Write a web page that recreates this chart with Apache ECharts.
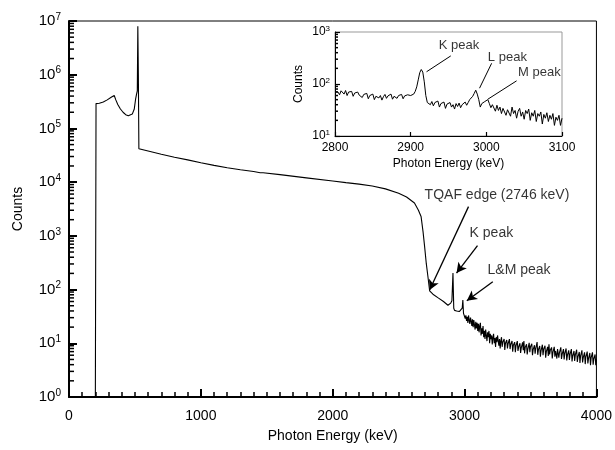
<!DOCTYPE html>
<html>
<head>
<meta charset="utf-8">
<script src="https://cdn.jsdelivr.net/npm/echarts@6/dist/echarts.min.js"></script>
<style>
  html, body { margin: 0; padding: 0; background: #fff; }
  #main { width: 615px; height: 450px; }
</style>
</head>
<body>
<div id="main"></div>
<script type="text/javascript">
// main spectrum, low energy part up to the TQAF edge  [keV, counts]
var spectrumLow = [
  [200, 1], [205, 2.9e5], [230, 2.95e5], [260, 3.1e5], [290, 3.4e5], [320, 3.8e5],
  [343, 4.1e5], [355, 3.4e5], [370, 2.8e5], [390, 2.3e5], [410, 2.0e5], [430, 1.8e5],
  [450, 1.72e5], [465, 1.72e5], [480, 1.85e5], [495, 2.3e5], [505, 3.5e5], [512, 4.3e5],
  [518, 5e5], [522, 8e6], [526, 1e6], [530, 4.2e4], [600, 3.8e4], [700, 3.3e4],
  [800, 2.9e4], [900, 2.6e4], [1000, 2.3e4], [1100, 2.05e4], [1200, 1.85e4], [1300, 1.7e4],
  [1400, 1.58e4], [1450, 1.5e4], [1462, 1.62e4], [1472, 1.5e4], [1600, 1.38e4], [1800, 1.2e4],
  [2000, 1.05e4], [2100, 9.8e3], [2200, 9.2e3], [2300, 8.5e3], [2400, 7.5e3], [2500, 6.2e3],
  [2560, 5.3e3], [2620, 4.1e3], [2628, 4.4e3], [2650, 3.0e3], [2670, 2.3e3], [2685, 1.2e3],
  [2697, 630], [2710, 300], [2722, 175], [2735, 95]
];
// main spectrum around the K and L&M peaks
var spectrumPeaks = [
  [2760, 82], [2800, 70], [2840, 60], [2874, 51], [2895, 56], [2904, 62], [2912, 204],
  [2918, 45], [2924, 41], [2940, 40], [2960, 39], [2975, 38], [2982, 45], [2987, 64],
  [2992, 36], [3000, 34], [3005, 29], [3010, 33], [3015, 26], [3020, 31], [3025, 24],
  [3030, 33], [3035, 27], [3040, 23], [3045, 30], [3050, 26], [3055, 21], [3060, 28],
  [3065, 20], [3070, 27], [3075, 22], [3080, 18], [3085, 25], [3090, 19], [3095, 24], [3100, 17]
];
// main spectrum, noisy tail
var spectrumTail = [
  [3105, 23], [3110, 16], [3115, 21], [3120, 24], [3125, 14], [3130, 19], [3135, 15], [3140, 21],
  [3145, 13], [3150, 17], [3155, 12], [3160, 18], [3165, 14], [3170, 11], [3175, 16], [3180, 13],
  [3185, 17], [3190, 10], [3195, 15], [3200, 12], [3205, 14], [3210, 9.5], [3215, 13], [3220, 15],
  [3225, 10], [3230, 12.5], [3235, 8.5], [3240, 13], [3245, 10.5], [3250, 14], [3260, 9], [3265, 12],
  [3270, 8], [3275, 11], [3280, 13], [3285, 8.6], [3290, 10.5], [3300, 12], [3305, 7.5], [3310, 10],
  [3320, 11.5], [3325, 8], [3330, 9.8], [3340, 12], [3345, 7.8], [3350, 9.5], [3360, 11], [3365, 7],
  [3370, 9.2], [3380, 10.5], [3385, 6.8], [3390, 9], [3400, 11], [3405, 7.2], [3410, 8.5], [3420, 10],
  [3425, 6.6], [3430, 8.2], [3440, 10.4], [3445, 7.4], [3450, 11], [3455, 6.5], [3460, 8.4], [3470, 9.6],
  [3475, 6.2], [3480, 7.8], [3490, 10.2], [3495, 6.8], [3500, 8.6], [3510, 9.8], [3515, 6], [3520, 7.6],
  [3530, 9.2], [3535, 6.4], [3540, 8], [3550, 10.5], [3555, 6.1], [3560, 7.6], [3570, 8.9], [3575, 5.6],
  [3580, 7.2], [3590, 9.4], [3595, 6], [3600, 7.8], [3610, 9], [3615, 5.4], [3620, 7], [3630, 8.6],
  [3635, 5.8], [3640, 9.6], [3645, 6.2], [3650, 7.4], [3660, 8.4], [3665, 5.2], [3670, 6.8], [3680, 8.6],
  [3685, 5.6], [3690, 7.2], [3700, 5.2], [3705, 7.8], [3710, 8.2], [3715, 5.4], [3720, 6.8], [3730, 8.4],
  [3735, 5.1], [3740, 6.2], [3750, 7.8], [3755, 5], [3760, 6.4], [3770, 8], [3775, 4.8], [3780, 6],
  [3790, 7.4], [3795, 4.9], [3800, 6.2], [3810, 7.8], [3815, 4.6], [3820, 5.8], [3830, 7.2], [3835, 4.7],
  [3840, 6.1], [3850, 7.6], [3855, 4.5], [3860, 5.6], [3870, 6.9], [3875, 4.3], [3880, 5.8], [3890, 7.4],
  [3895, 4.4], [3900, 5.4], [3910, 6.8], [3915, 4.1], [3920, 5.6], [3930, 7], [3935, 4.2], [3940, 5.2],
  [3950, 6.6], [3955, 3.9], [3960, 5.4], [3970, 6.8], [3975, 4], [3980, 5.1], [3990, 6.2], [3995, 3.9],
  [4000, 5]
];
// inset: fine scan 2800-3100 keV
var insetSpectrum = [
  [2800, 72], [2802, 66], [2804, 70], [2806, 62], [2808, 74], [2810, 68], [2812, 64], [2814, 75],
  [2816, 60], [2818, 70], [2820, 66], [2822, 72], [2824, 58], [2826, 67], [2828, 63], [2830, 70],
  [2832, 61], [2834, 65], [2836, 55], [2838, 63], [2840, 59], [2842, 66], [2844, 52], [2846, 60],
  [2848, 57], [2850, 64], [2852, 50], [2854, 58], [2856, 62], [2858, 54], [2860, 60], [2862, 49],
  [2864, 57], [2866, 63], [2868, 53], [2870, 59], [2872, 55], [2874, 64], [2876, 51], [2878, 58],
  [2880, 61], [2882, 53], [2884, 60], [2886, 56], [2888, 63], [2890, 52], [2892, 59], [2894, 55],
  [2896, 62], [2898, 57], [2900, 60], [2902, 58], [2904, 64], [2906, 72], [2908, 88], [2910, 120],
  [2912, 165], [2914, 190], [2916, 170], [2918, 110], [2920, 60], [2922, 44], [2924, 48], [2926, 40],
  [2928, 46], [2930, 38], [2932, 44], [2934, 41], [2936, 47], [2938, 36], [2940, 42], [2942, 39],
  [2944, 45], [2946, 34], [2948, 41], [2950, 38], [2952, 44], [2954, 36], [2956, 40], [2958, 33],
  [2960, 42], [2962, 37], [2964, 43], [2966, 35], [2968, 40], [2970, 38], [2972, 45], [2974, 39],
  [2976, 44], [2978, 50], [2980, 47], [2982, 58], [2984, 66], [2986, 76], [2988, 64], [2990, 50],
  [2992, 36], [2994, 42], [2996, 39], [2998, 46], [3000, 44], [3002, 50], [3004, 42], [3006, 35],
  [3008, 40], [3010, 37], [3012, 30], [3014, 39], [3016, 31], [3018, 36], [3020, 27], [3022, 34],
  [3024, 35], [3026, 25], [3028, 32], [3030, 33], [3032, 24], [3034, 36], [3036, 27], [3038, 31],
  [3040, 22], [3042, 30], [3044, 34], [3046, 24], [3048, 29], [3050, 21], [3052, 31], [3054, 27],
  [3056, 33], [3058, 20], [3060, 28], [3062, 24], [3064, 31], [3066, 19], [3068, 27], [3070, 24],
  [3072, 29], [3074, 17], [3076, 26], [3078, 22], [3080, 28], [3082, 19], [3084, 25], [3086, 21],
  [3088, 27], [3090, 16], [3092, 23], [3094, 20], [3096, 25], [3098, 16], [3100, 22]
];
// annotations: text anchors and arrows (data coordinates)
var mainLabels = [
  [2697, 5800, 'TQAF edge (2746 keV)'],
  [3038, 1132, 'K peak'],
  [3174, 231, 'L&M peak']
];
var mainArrows = [
  [[3030, 3500], [2735, 98]],
  [[3098, 656], [2939, 203]],
  [[3214, 140], [3017, 62]]
];
var insetLabels = [
  [2937, 562, 'K peak'],
  [3002, 321, 'L peak'],
  [3042, 165, 'M peak']
];
var insetArrows = [
  [[2953, 347], [2921, 172]],
  [[3007, 250], [2991, 83]],
  [[3040, 115], [3002, 51]]
];

var font = 'Liberation Sans, Arial, sans-serif';
var myChart = echarts.init(document.getElementById('main'));

function powLabel(v) {
  return '10{s|' + Math.round(Math.log10(v)) + '}';
}
function plainLabel(v) {
  return String(v);
}
function logMinors(lo, hi) {
  var out = [];
  for (var k = lo; k < hi; k++) {
    for (var m = 2; m <= 9; m++) out.push(m * Math.pow(10, k));
  }
  return out;
}
function minorTickSeries(xi, yi, xPos, values, len) {
  return {
    type: 'custom', xAxisIndex: xi, yAxisIndex: yi, silent: true, clip: false, z: 5,
    encode: { x: 0, y: 1 },
    renderItem: function (params, api) {
      var p = api.coord([api.value(0), api.value(1)]);
      return { type: 'line', shape: { x1: p[0], y1: p[1], x2: p[0] + len, y2: p[1] },
               style: { stroke: '#000', lineWidth: 1.5 } };
    },
    data: values.map(function (v) { return [xPos, v]; })
  };
}
function arrowData(list) {
  return list.map(function (a) { return [{ coord: a[0] }, { coord: a[1] }]; });
}

var option = {
  animation: false,
  textStyle: { fontFamily: font, color: '#000' },
  grid: [
    { left: 69, right: 18, top: 21, bottom: 53, show: true, borderColor: '#000', borderWidth: 1 },
    { left: 335, right: 53, top: 32, bottom: 314, show: true, borderColor: '#999', borderWidth: 1 }
  ],
  xAxis: [
    {
      gridIndex: 0, type: 'value', min: 0, max: 4000, interval: 1000,
      name: 'Photon Energy (keV)', nameLocation: 'middle', nameGap: 32,
      nameTextStyle: { fontSize: 14, fontFamily: font, color: '#000' },
      axisLine: { show: true, lineStyle: { color: '#000', width: 2 } },
      axisTick: { show: true, inside: true, length: 8, lineStyle: { color: '#000', width: 2 } },
      minorTick: { show: true, splitNumber: 10, length: 5, lineStyle: { color: '#000', width: 1.5 } },
      axisLabel: { fontSize: 14, margin: 12, color: '#000', fontFamily: font, formatter: plainLabel },
      splitLine: { show: false }
    },
    {
      gridIndex: 1, type: 'value', min: 2800, max: 3100, interval: 100,
      name: 'Photon Energy (keV)', nameLocation: 'middle', nameGap: 22,
      nameTextStyle: { fontSize: 12, fontFamily: font, color: '#000' },
      axisLine: { show: true, lineStyle: { color: '#000', width: 1 } },
      axisTick: { show: true, inside: true, length: 4, lineStyle: { color: '#000', width: 1.2 } },
      axisLabel: { fontSize: 12, margin: 6, color: '#000', fontFamily: font, formatter: plainLabel },
      splitLine: { show: false }
    }
  ],
  yAxis: [
    {
      gridIndex: 0, type: 'log', logBase: 10, min: 1, max: 1e7,
      name: 'Counts', nameLocation: 'middle', nameGap: 44,
      nameTextStyle: { fontSize: 14, fontFamily: font, color: '#000' },
      axisLine: { show: true, lineStyle: { color: '#000', width: 2 } },
      axisTick: { show: true, inside: true, length: 8, lineStyle: { color: '#000', width: 2 } },
      axisLabel: {
        fontSize: 15, margin: 8, color: '#000', fontFamily: font, formatter: powLabel,
        rich: { s: { fontSize: 10, fontFamily: font, color: '#000', padding: [0, 0, 8, 0] } }
      },
      splitLine: { show: false }
    },
    {
      gridIndex: 1, type: 'log', logBase: 10, min: 10, max: 1000,
      name: 'Counts', nameLocation: 'middle', nameGap: 30,
      nameTextStyle: { fontSize: 12, fontFamily: font, color: '#000' },
      axisLine: { show: true, lineStyle: { color: '#000', width: 1 } },
      axisTick: { show: true, inside: true, length: 5, lineStyle: { color: '#000', width: 1.2 } },
      axisLabel: {
        fontSize: 12, margin: 5, color: '#000', fontFamily: font, formatter: powLabel,
        rich: { s: { fontSize: 8, fontFamily: font, color: '#000', padding: [0, 0, 6, 0] } }
      },
      splitLine: { show: false }
    }
  ],
  series: [
    {
      type: 'line', xAxisIndex: 0, yAxisIndex: 0, showSymbol: false, silent: true,
      lineStyle: { color: '#000', width: 1.1 },
      data: spectrumLow.concat(spectrumPeaks, spectrumTail),
      markLine: {
        silent: true, symbol: ['none', 'arrow'], symbolSize: [8, 10],
        label: { show: false },
        lineStyle: { color: '#000', width: 1.3, type: 'solid' },
        data: arrowData(mainArrows)
      }
    },
    {
      type: 'line', xAxisIndex: 1, yAxisIndex: 1, showSymbol: false, silent: true,
      lineStyle: { color: '#000', width: 1 },
      data: insetSpectrum,
      markLine: {
        silent: true, symbol: ['none', 'none'],
        label: { show: false },
        lineStyle: { color: '#000', width: 1, type: 'solid' },
        data: arrowData(insetArrows)
      }
    },
    {
      type: 'scatter', xAxisIndex: 0, yAxisIndex: 0, symbolSize: 0, silent: true,
      label: { show: true, position: 'right', distance: 0, fontSize: 14, fontFamily: font, color: '#000',
               formatter: function (p) { return p.value[2]; } },
      data: mainLabels
    },
    {
      type: 'scatter', xAxisIndex: 1, yAxisIndex: 1, symbolSize: 0, silent: true,
      label: { show: true, position: 'right', distance: 0, fontSize: 13, fontFamily: font, color: '#000',
               formatter: function (p) { return p.value[2]; } },
      data: insetLabels
    },
    minorTickSeries(0, 0, 0, logMinors(0, 7), 5),
    minorTickSeries(1, 1, 2800, logMinors(1, 3), 3)
  ]
};
myChart.setOption(option);
</script>
</body>
</html>
